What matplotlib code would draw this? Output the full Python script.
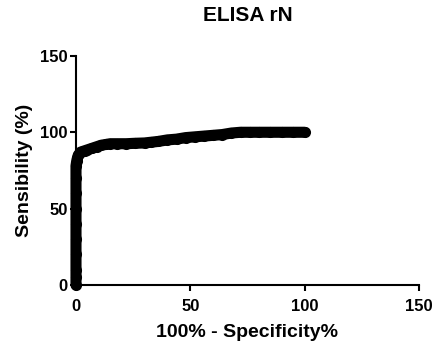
import matplotlib
matplotlib.use("Agg")
import matplotlib.pyplot as plt

# ROC curve (100% - specificity vs sensitivity)
fpr = [0, 0, 0, 0, 0, 0, 0, 0, 0, 0, 0.3, 0.6, 1, 1.5, 2, 3, 4, 5, 7, 9, 11, 13, 15,
       18, 22, 26, 30, 33, 36, 40, 44, 48, 52, 56, 60, 64, 68, 72, 76, 80, 85, 90, 95, 100]
sens = [0, 5, 10, 20, 30, 40, 50, 60, 70, 78, 81, 83, 85, 86, 87, 87.5, 88, 88.5, 89.5,
        90.5, 91.5, 92, 92.5, 92.5, 92.5, 92.8, 93, 93.5, 94, 95, 95.5, 96.5, 97, 97.5,
        98, 98.5, 99.5, 100, 100, 100, 100, 100, 100, 100]

plt.rcParams["font.family"] = ["Liberation Sans", "DejaVu Sans"]
plt.rcParams["font.weight"] = "bold"

fig = plt.figure(figsize=(4.35, 3.44), dpi=100)
ax = fig.add_axes([0.1747, 0.1715, 0.788, 0.666])

ax.plot(fpr, sens, "-", color="black", linewidth=8, solid_capstyle="round",
        solid_joinstyle="round", marker="o", markersize=8, markeredgewidth=0,
        clip_on=False, zorder=3)

ax.set_xlim(0, 150)
ax.set_ylim(0, 150)
ax.set_xticks([0, 50, 100, 150])
ax.set_yticks([0, 50, 100, 150])
for s in ["top", "right"]:
    ax.spines[s].set_visible(False)
for s in ["left", "bottom"]:
    ax.spines[s].set_linewidth(1.5)
ax.tick_params(direction="out", length=4, width=1.5, labelsize=12)
ax.tick_params(axis="x", pad=6)
ax.tick_params(axis="y", pad=2)
for lab in ax.get_xticklabels() + ax.get_yticklabels():
    lab.set_fontweight("bold")

ax.set_xlabel("100% - Specificity%", fontsize=14, fontweight="bold", labelpad=7)
ax.set_ylabel("Sensibility (%)", fontsize=14, fontweight="bold", labelpad=5)
ax.set_title("ELISA rN", fontsize=15, fontweight="bold", pad=25)

fig.savefig("out.png", dpi=100)
